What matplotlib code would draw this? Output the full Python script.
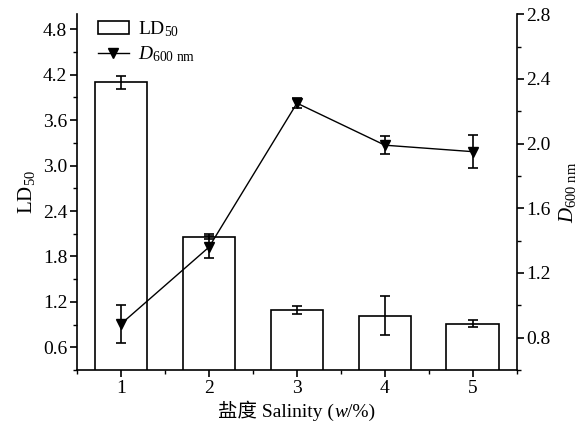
import matplotlib
matplotlib.use("Agg")
import matplotlib.pyplot as plt
from matplotlib.ticker import MultipleLocator
from matplotlib.lines import Line2D
from matplotlib.patches import Patch
from matplotlib.offsetbox import TextArea, HPacker, AnchoredOffsetbox

plt.rcParams['font.family'] = ['Liberation Serif', 'Noto Sans CJK SC']
plt.rcParams['mathtext.fontset'] = 'custom'
plt.rcParams['mathtext.rm'] = 'Liberation Serif'
plt.rcParams['mathtext.it'] = 'Liberation Serif:italic'

salinity = [1, 2, 3, 4, 5]
ld50 = [4.10, 2.06, 1.09, 1.02, 0.91]
ld50_err = [0.09, 0.03, 0.05, 0.26, 0.045]
d600 = [0.885, 1.36, 2.25, 1.99, 1.95]
d600_err = [0.12, 0.07, 0.03, 0.057, 0.10]

FS = 14

fig = plt.figure(figsize=(5.84, 4.30), dpi=100)
ax = fig.add_axes([0.132, 0.1395, 0.753, 0.8275])
ax.bar(salinity, ld50, width=0.6, facecolor='white', edgecolor='black', linewidth=1.2,
       zorder=2)
ax.errorbar(salinity, ld50, yerr=ld50_err, fmt='none', ecolor='black', elinewidth=1.2,
            capsize=3.5, capthick=1.2, zorder=3)
ax.set_xlim(0.5, 5.5)
ax.set_ylim(0.3, 5.0)
ax.set_yticks([0.6, 1.2, 1.8, 2.4, 3.0, 3.6, 4.2, 4.8])
ax.yaxis.set_minor_locator(MultipleLocator(0.3))
ax.set_xticks(salinity)
ax.xaxis.set_minor_locator(MultipleLocator(0.5))
ax.spines['top'].set_visible(False)
ax.spines['right'].set_visible(False)
for s in ['left', 'bottom']:
    ax.spines[s].set_linewidth(1.2)
ax.tick_params(which='major', direction='out', length=5, width=1.2, labelsize=FS, pad=2)
ax.tick_params(which='minor', direction='out', length=3, width=1.0)
ax.set_ylabel(r'$\mathrm{LD}_{50}$', fontsize=FS + 1, labelpad=4)

# x label built from pieces so that CJK glyphs and italic w both render
parts = [TextArea('盐度 Salinity (', textprops=dict(fontsize=FS)),
         TextArea('w', textprops=dict(fontsize=FS, style='italic')),
         TextArea('/%)', textprops=dict(fontsize=FS))]
xl = HPacker(children=parts, align='baseline', pad=0, sep=0)
anc = AnchoredOffsetbox(loc='upper center', child=xl, bbox_to_anchor=(0.5, -0.085),
                        bbox_transform=ax.transAxes, frameon=False, pad=0, borderpad=0)
ax.add_artist(anc)

ax2 = ax.twinx()
ax2.errorbar(salinity, d600, yerr=d600_err, color='black', marker='v', markersize=7,
             linewidth=1.0, elinewidth=1.2, capsize=3.5, capthick=1.2, zorder=4)
ax2.set_ylim(0.6, 2.8)
ax2.set_yticks([0.8, 1.2, 1.6, 2.0, 2.4, 2.8])
ax2.yaxis.set_minor_locator(MultipleLocator(0.2))
ax2.spines['top'].set_visible(False)
ax2.spines['left'].set_visible(False)
ax2.spines['bottom'].set_visible(False)
ax2.spines['right'].set_linewidth(1.2)
ax2.tick_params(which='major', direction='out', length=5, width=1.2, labelsize=FS, pad=2)
ax2.tick_params(which='minor', direction='out', length=3, width=1.0)
ax2.set_ylabel(r'$\mathit{D}_{\mathrm{600\ nm}}$', fontsize=FS + 1, labelpad=4)

handles = [Patch(facecolor='white', edgecolor='black', linewidth=1.2),
           Line2D([0], [0], color='black', marker='v', markersize=7, linewidth=1.0)]
labels = [r'$\mathrm{LD}_{50}$', r'$\mathit{D}_{\mathrm{600\ nm}}$']
ax.legend(handles, labels, loc='upper left', bbox_to_anchor=(0.007, 1.035), frameon=False,
          fontsize=FS, handlelength=1.6, handletextpad=0.45, labelspacing=0.3)

fig.savefig('out.png', dpi=100)
